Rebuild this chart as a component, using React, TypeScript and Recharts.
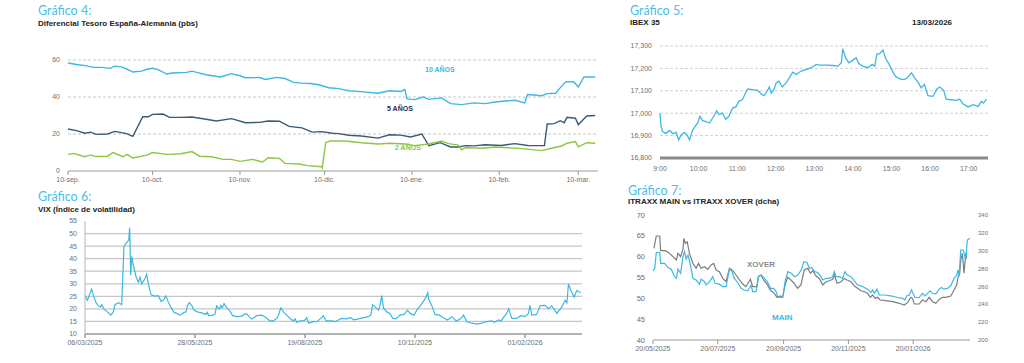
import React from 'react';
import {
  LineChart,
  Line,
  XAxis,
  YAxis,
  CartesianGrid,
} from 'recharts';

// Gráfico 4: spread vs Bund (days since 10-sep)
const spread10yDays = [0, 3, 6.6, 9, 12, 15, 16.6, 19, 21, 23, 26, 28, 30, 32, 35, 37, 42, 44, 46, 49, 54, 58, 61, 63, 68, 70, 74, 77, 80, 83, 86, 89, 92.5, 96, 99.6, 104, 110, 114, 118, 119.5, 120.3, 123, 126, 128, 132.5, 135.7, 139.6, 144, 148, 151.5, 155, 158.6, 162, 163, 168, 170, 173, 174, 176.6, 179.5, 181, 183, 187];
const spread10y = [58.4, 57.6, 56.8, 56, 56, 55.5, 56.7, 56.3, 55, 53.5, 54, 55, 55.5, 54.8, 52.4, 53, 53.3, 54, 53.2, 52, 50.8, 52.6, 51.5, 50.4, 50.5, 49.5, 50.6, 50, 47.9, 47.5, 47.3, 46.6, 45, 44.5, 43.4, 42.9, 42, 43.4, 43, 44, 39, 38.6, 40, 38.7, 39.5, 36.4, 35.9, 36.8, 36.4, 37.3, 37.8, 38.2, 36.8, 41.3, 40.7, 41.8, 42, 44, 48.3, 48.1, 45.4, 50.8, 50.8];
const spread5yDays = [0, 3, 6, 8, 10, 14, 16.6, 20.8, 23, 26.5, 28.5, 30, 33.7, 36, 40, 44, 49, 52.6, 58, 63, 68, 71, 75, 78.4, 83, 86.6, 90, 93.8, 96, 99.6, 104, 110, 114, 118, 121.5, 125.5, 128, 132, 135.7, 138.5, 141, 144, 148, 153.7, 158.6, 163, 169, 170, 172.5, 174.6, 176, 177, 180, 181, 184, 187];
const spread5y = [22.7, 21.8, 20.4, 21, 19.8, 20, 21.4, 20.2, 18.7, 29.4, 29.3, 30.6, 30.8, 29, 29, 29.2, 28, 27, 28.3, 26.1, 26.3, 27, 26.9, 24.1, 23.3, 21, 21.3, 20.4, 20.2, 19.3, 18.9, 17.8, 19.6, 19.4, 18.4, 20, 13.7, 15.3, 13, 13, 13.7, 13.6, 14.2, 13.8, 14.8, 13.8, 13.7, 25.4, 25.6, 27.2, 26.1, 29, 28.5, 25, 29.7, 30];
const spread2yDays = [0, 2, 6, 8, 10, 14, 16, 19.5, 21, 23, 28, 30, 35, 40, 44, 46.6, 51, 55, 58, 61, 65.5, 69, 71, 75, 77, 82, 85, 90, 90.2, 91.4, 93, 98.5, 104, 110, 114, 119.6, 123, 128, 132.5, 135, 138.5, 139.6, 141, 147, 151.5, 156, 161, 168, 171.5, 175, 177, 180, 181, 184, 187];
const spread2y = [9, 9.5, 7.7, 8.7, 7.8, 8, 10, 7.7, 9, 7, 8.6, 10, 9, 9.3, 10.5, 8, 7.7, 6.3, 6.3, 5.2, 6.3, 4.9, 7.2, 6.8, 4.1, 3.8, 2.9, 2.3, 1.8, 15.3, 16.2, 16.2, 15.3, 14.6, 15, 14.6, 13.7, 14.6, 16.2, 14.8, 14, 11.5, 12.6, 12.3, 13, 12.6, 12.1, 11, 12.3, 13.5, 15, 15.9, 13.1, 15.3, 15];
const spreadTicks = [0, 30, 61, 91, 122, 153, 181];
const spreadTickLabels = ['10-sep.', '10-oct.', '10-nov.', '10-dic.', '10-ene.', '10-feb.', '10-mar.'];

// Gráfico 5: IBEX 35 intraday (minutes since 9:00)
const ibexMinutes = [0, 1.5, 4, 9, 15, 20, 25, 29, 33, 38, 42, 46, 51, 59, 62, 66, 77, 85, 88, 92, 97, 102, 107, 113, 118, 122.5, 128, 133, 136.5, 144, 152, 157, 162, 166.5, 170, 173, 177, 180.6, 185, 190, 196, 201, 206.5, 212, 219.5, 227, 235, 243, 248, 258, 269, 276.6, 282, 284, 288.5, 293.7, 300, 305, 309, 315.5, 323, 330, 334, 337, 342, 346.6, 351, 355, 359.6, 366, 372.6, 379, 384, 391, 396, 402, 406, 411, 416.7, 424.5, 430.7, 435, 441, 445, 453, 461, 466, 471, 479, 487, 494.5, 500, 503, 507.5];
const ibexValues = [17000, 16944, 16918, 16910, 16923, 16908, 16914, 16881, 16903, 16914, 16903, 16881, 16926, 16959, 16986, 16968, 16956, 16993, 17011, 16993, 17000, 16973, 16986, 17023, 17028, 17053, 17060, 17090, 17108, 17105, 17102, 17087, 17078, 17098, 17117, 17090, 17105, 17135, 17143, 17117, 17135, 17158, 17183, 17173, 17188, 17195, 17203, 17218, 17215, 17215, 17213, 17210, 17225, 17288, 17248, 17225, 17237, 17248, 17222, 17210, 17203, 17218, 17210, 17263, 17267, 17282, 17243, 17225, 17198, 17165, 17153, 17150, 17156, 17180, 17158, 17135, 17113, 17128, 17078, 17075, 17108, 17117, 17102, 17063, 17060, 17057, 17063, 17042, 17028, 17038, 17030, 17053, 17045, 17063];
const ibexTicks = [0, 60, 120, 180, 240, 300, 360, 420, 480];
const ibexYTicks = [16800, 16900, 17000, 17100, 17200, 17300];

// Gráfico 6: VIX (days since 06/03/2025)
const vixDays = [0, 1.8, 5, 6.8, 8.3, 10, 11.8, 12.8, 14.3, 16.9, 19.4, 21.4, 22.6, 25.2, 27.7, 29.4, 31.4, 33, 33.7, 34.5, 35.2, 36.5, 38.5, 40.3, 41.5, 42.8, 45.3, 46.5, 47.8, 49.8, 52.8, 55.3, 57.4, 59, 61, 63, 64.7, 67.2, 69.2, 71.7, 74.7, 76.2, 77.2, 78.7, 80.5, 82.3, 84.8, 88, 91.3, 92.3, 93.3, 96.4, 98, 99.4, 101.4, 102.4, 103.6, 104.9, 106.9, 109.4, 111.4, 114.5, 118.2, 120, 122, 124, 125.8, 129.6, 133.3, 135.8, 139.6, 142, 144.7, 146, 147.7, 149.7, 152.2, 154.7, 157.2, 158.5, 159.7, 162.8, 165.3, 167.3, 168.8, 172.3, 175, 177.9, 179.9, 181.9, 186.2, 188.7, 191.2, 193.7, 197, 200.5, 203, 206.3, 210, 213.8, 215.6, 217.1, 219.6, 221.4, 222.6, 223.9, 225.2, 227.7, 230.2, 232.2, 234.7, 237.7, 240.7, 243.3, 245.3, 248.3, 250.3, 253.3, 255.8, 257.3, 258.6, 259.4, 261.6, 264.1, 267.4, 270.4, 273.5, 276.8, 280.1, 283.6, 285.6, 288.1, 291.9, 295.7, 299.4, 303.2, 307, 308.8, 312, 314, 316.2, 318.2, 319.7, 322, 325.7, 328.7, 332, 334.6, 335.8, 337.1, 340.8, 343.4, 347.2, 349.7, 352.2, 354, 356, 359.8, 362.3, 363.6, 364.8, 366.6, 369.1, 371.1, 374.1];
const vixValues = [25.3, 23.4, 27.9, 24.7, 22.5, 21.2, 20.8, 21.7, 19.9, 18.8, 17.5, 18.8, 21.7, 22.5, 21.7, 45, 46.4, 47.4, 52.3, 33.4, 40.9, 37.3, 32.9, 30.5, 32.5, 29.9, 32.1, 33.8, 29.9, 25.6, 25.1, 25.3, 23, 23.4, 25.1, 22.5, 20.8, 18.6, 18.2, 17.5, 18.6, 18.8, 21.2, 22.5, 21.4, 19.5, 18.8, 18.4, 17.8, 18.6, 17.3, 17.5, 17.8, 21.2, 19.9, 21.4, 20.4, 22.1, 20.4, 19.1, 17.3, 16.9, 17.1, 17.8, 18.1, 16.8, 16, 17.3, 17.5, 16.9, 15.2, 15.2, 16.2, 17.5, 20.4, 18.8, 17.5, 16.2, 15.2, 16, 14.7, 15.2, 15.2, 16.5, 14.3, 14.9, 14.9, 16.2, 17.3, 15.2, 15.2, 14.9, 15.6, 16.2, 16, 16.5, 15.6, 16, 16.5, 16.9, 17.5, 21.7, 20.4, 19.5, 21.4, 25.3, 20.4, 18.8, 18.2, 16.2, 16, 17.5, 17.8, 19.5, 18.2, 17.5, 19.5, 21.4, 23.4, 24.7, 26.4, 23.8, 21.4, 17.8, 17.5, 16.5, 15.6, 16.9, 15.2, 16.2, 17.5, 14.9, 14.3, 13.9, 14.3, 14.9, 15.2, 14.7, 15.6, 15.2, 16.9, 18.2, 20.1, 16.2, 16.2, 17.3, 16.9, 18.2, 21.4, 17.5, 17.8, 21.2, 21.4, 20.1, 21.2, 19.9, 18.2, 20.8, 23.4, 22.5, 29.9, 27.3, 24.7, 27.3, 26.4];
const vixTicks = [0, 83, 166, 249, 332];
const vixTickLabels = ['06/03/2025', '28/05/2025', '19/08/2025', '10/11/2025', '01/02/2026'];
const vixYTicks = [10, 15, 20, 25, 30, 35, 40, 45, 50, 55];

// Gráfico 7: iTraxx (days since 20/05/2025)
const mainDays = [0, 1.6, 3.1, 6.3, 7.2, 11, 14.1, 17.2, 20.3, 22, 23.5, 26, 28.2, 29.7, 31.3, 33, 35.3, 37.5, 40.6, 43.8, 45.3, 48.5, 50, 53.2, 56.3, 58.5, 62.5, 65.7, 68.8, 72, 74.1, 76.6, 79.7, 82.9, 86, 89.2, 92.3, 93.9, 97, 99.4, 101.9, 105, 107.6, 110.7, 113.8, 116, 117.6, 120, 122.3, 124.5, 127, 130.2, 133.3, 136.4, 139.6, 142.1, 145, 147.3, 149.5, 152, 155.1, 158.3, 159.8, 163, 166.1, 169.2, 170.8, 172.4, 175.5, 178.6, 180.8, 182.7, 186.4, 189.6, 192.7, 195.8, 199, 202.1, 205.2, 206.8, 208.4, 210.9, 213.1, 217.8, 224, 230.3, 235, 237.2, 239, 241.3, 243.5, 245.3, 246.6, 250.7, 253.8, 256, 258.5, 261, 263.2, 266.3, 269.5, 271.6, 274.1, 277.3, 280.4, 283.5, 286, 287.3, 288.2, 289.8, 292.3, 294.5, 296, 298.5];
const mainValues = [56.6, 57.2, 61, 61, 58.4, 58.4, 57.4, 57, 55.2, 54.8, 57, 56, 60, 61.2, 59.4, 60.4, 58, 54.8, 54.4, 53.4, 54.6, 54, 53.2, 54, 55.2, 53.6, 53.4, 52.8, 52.8, 57, 56.6, 54.8, 53.8, 52.4, 52, 51.8, 53.2, 51.6, 51.6, 55.2, 55.6, 54.8, 54, 52.4, 52.4, 51.6, 50.2, 50.2, 50.4, 54.2, 56.4, 56, 55.2, 55.6, 56.8, 58.8, 58.6, 57.2, 57.4, 56.4, 56.2, 55.2, 54.4, 54.8, 54.8, 55.2, 56.4, 55.2, 55.2, 54.8, 56.4, 55.6, 55.2, 54.2, 53.2, 53, 52.6, 52.2, 51.4, 52, 51.2, 52.2, 50.8, 50.8, 50.6, 50.2, 50, 49.6, 50.6, 50.8, 52, 51, 50.2, 50.2, 51.2, 50.6, 51.2, 51.8, 51.2, 51, 52.2, 52.6, 52.2, 52.4, 53, 54.8, 55.6, 56.8, 55.2, 61.6, 61.6, 59.2, 64, 64.4];
const xoverDays = [0.9, 3.1, 6.3, 7.2, 11.6, 14.8, 18.9, 22, 23.5, 26, 28.2, 29.1, 30.5, 32.2, 34.4, 37.5, 40.6, 42.8, 45.3, 48.5, 51.6, 54.7, 57.2, 59.4, 62.5, 65.7, 68.8, 72, 75.1, 78.2, 81.4, 84.5, 87.6, 91.7, 93.9, 97.9, 99.1, 101.6, 104.1, 107.3, 110.4, 114.2, 116.7, 119.8, 122, 124.2, 126.7, 129.9, 133, 136.1, 139.3, 142.4, 145.7, 148.2, 150.4, 153.5, 156.7, 159.8, 163, 166.1, 169.2, 170.8, 173.3, 177, 180.2, 182.7, 186.4, 189.6, 192.7, 195.8, 199, 202.1, 204.6, 206.8, 209, 211.5, 214, 219.3, 225.6, 231.8, 236.5, 239.7, 242.8, 244.4, 246, 250.7, 253.8, 257, 260.1, 263.2, 266.3, 269.5, 272.6, 275.7, 280.4, 283.5, 286, 287.3, 288.8, 289.8, 291.3, 292.9, 294.5, 295.4];
const xoverValues = [302.7, 316.5, 316.5, 300, 300, 297.8, 293.3, 289.6, 297, 293.3, 301.5, 313.8, 308.2, 310, 297, 285.9, 280.3, 285.9, 280.3, 282, 279, 284, 285.9, 278.4, 276.5, 269, 265.3, 280.3, 277.6, 272.8, 267.2, 262.7, 259.7, 268, 259.7, 259.7, 270.9, 272.8, 267.2, 262.7, 256, 252.3, 247.8, 249.3, 247.8, 260.5, 270.2, 267.2, 263.5, 257.9, 261.6, 278.4, 280.3, 274.7, 277.6, 271.7, 269, 261.6, 265.3, 266.4, 268, 272.8, 263.5, 265.3, 269, 267.2, 265.3, 260.5, 257.9, 255.2, 254.1, 252.3, 247.8, 250.4, 246.7, 247.8, 244.8, 244, 242.9, 241.1, 239.2, 241.8, 247.8, 246.7, 240.3, 240.3, 244.8, 242.9, 247.8, 242.9, 241.1, 245.5, 247.8, 247.8, 249.3, 256, 261.6, 270.9, 274.7, 289.6, 297, 274.7, 297, 291.4];
const itraxxTicks = [0, 61, 123, 184, 245];
const itraxxTickLabels = ['20/05/2025', '20/07/2025', '20/09/2025', '20/11/2025', '20/01/2026'];
const mainTicks = [40, 45, 50, 55, 60, 65, 70];
const xoverTicks = [200, 220, 240, 260, 280, 300, 320, 340];

const zip = (xs: number[], ys: number[]) => xs.map((x, i) => ({ x, y: ys[i] }));

const CYAN = '#3bb8e4';
const tickFont = { fontSize: 7, fill: '#6f6f6f', fontFamily: 'Liberation Sans' };

const Title = ({ x, y, text }: { x: number; y: number; text: string }) => (
  <div style={{ position: 'absolute', left: x, top: y, fontFamily: 'Lato', fontSize: 12.5, color: '#4cbde9', lineHeight: 1 }}>
    {text}
  </div>
);

const Sub = ({ x, y, text }: { x: number; y: number; text: string }) => (
  <div style={{ position: 'absolute', left: x, top: y, fontFamily: 'Liberation Sans', fontWeight: 'bold', fontSize: 8, color: '#222', lineHeight: 1, whiteSpace: 'nowrap' }}>
    {text}
  </div>
);

const Label = ({ x, y, text, color, size = 7 }: { x: number; y: number; text: string; color: string; size?: number }) => (
  <div style={{ position: 'absolute', left: x, top: y, fontFamily: 'Liberation Sans', fontWeight: 'bold', fontSize: size, color, lineHeight: 1, whiteSpace: 'nowrap' }}>
    {text}
  </div>
);

export default function App() {
  return (
    <div style={{ position: 'absolute', left: 0, top: 0, width: 1024, height: 363, background: '#fff', overflow: 'hidden' }}>
      {/* Gráfico 4 */}
      <Title x={38} y={5} text="Gráfico 4:" />
      <Sub x={38} y={20} text="Diferencial Tesoro España-Alemania (pbs)" />
      <div style={{ position: 'absolute', left: 0, top: 0 }}>
        <LineChart width={620} height={190} margin={{ top: 60, right: 22, bottom: 0, left: 0 }}>
          <CartesianGrid vertical={false} horizontalValues={[20, 40, 60]} stroke="#c9c9c9" strokeDasharray="3 2" />
          <XAxis
            type="number"
            dataKey="x"
            domain={[0, 188]}
            ticks={spreadTicks}
            interval={0}
            tickFormatter={(v) => spreadTickLabels[spreadTicks.indexOf(v)] ?? ''}
            height={19}
            tick={tickFont}
            stroke="#9a9a9a"
            tickSize={4}
          />
          <YAxis domain={[0, 60]} ticks={[0, 20, 40, 60]} interval={0} width={68} axisLine={false} tickLine={false} tick={tickFont} />
          <Line data={zip(spread10yDays, spread10y)} dataKey="y" stroke={CYAN} strokeWidth={1.4} dot={false} isAnimationActive={false} />
          <Line data={zip(spread5yDays, spread5y)} dataKey="y" stroke="#3a5a72" strokeWidth={1.4} dot={false} isAnimationActive={false} />
          <Line data={zip(spread2yDays, spread2y)} dataKey="y" stroke="#8dc640" strokeWidth={1.4} dot={false} isAnimationActive={false} />
        </LineChart>
      </div>
      <Label x={425} y={66} text="10 AÑOS" color={CYAN} />
      <Label x={387} y={105} text="5 AÑOS" color="#1f2f55" />
      <Label x={395} y={144} text="2 AÑOS" color="#8dc640" />

      {/* Gráfico 5 */}
      <Title x={630} y={5} text="Gráfico 5:" />
      <Sub x={630} y={19} text="IBEX 35" />
      <Sub x={912} y={19} text="13/03/2026" />
      <div style={{ position: 'absolute', left: 620, top: 0 }}>
        <LineChart width={404} height={180} margin={{ top: 46, right: 36, bottom: 0, left: 0 }}>
          <CartesianGrid vertical={false} stroke="#cfcfcf" strokeDasharray="3 2" />
          <XAxis
            type="number"
            dataKey="x"
            domain={[0, 510]}
            ticks={ibexTicks}
            interval={0}
            tickFormatter={(v) => `${9 + v / 60}:00`}
            height={22}
            tick={tickFont}
            stroke="#8a8a8a"
            strokeWidth={3}
            tickLine={false}
          />
          <YAxis
            domain={[16800, 17300]}
            ticks={ibexYTicks}
            interval={0}
            tickFormatter={(v) => v.toLocaleString('en-US')}
            width={40}
            axisLine={false}
            tickLine={false}
            tick={tickFont}
          />
          <Line data={zip(ibexMinutes, ibexValues)} dataKey="y" stroke={CYAN} strokeWidth={1.3} dot={false} isAnimationActive={false} />
        </LineChart>
      </div>

      {/* Gráfico 6 */}
      <Title x={38} y={191} text="Gráfico 6:" />
      <Sub x={38} y={206} text="VIX (Índice de volatilidad)" />
      <div style={{ position: 'absolute', left: 0, top: 185 }}>
        <LineChart width={620} height={178} margin={{ top: 36, right: 38, bottom: 0, left: 0 }}>
          <CartesianGrid vertical={false} horizontalValues={[15, 20, 25, 30, 35, 40, 45, 50]} stroke="#c6c6c6" strokeWidth={1.2} />
          <XAxis
            type="number"
            dataKey="x"
            domain={[0, 375]}
            ticks={vixTicks}
            interval={0}
            tickFormatter={(v) => vixTickLabels[vixTicks.indexOf(v)] ?? ''}
            height={29}
            tick={tickFont}
            stroke="#9a9a9a"
            strokeWidth={1.5}
            tickSize={4}
          />
          <YAxis domain={[10, 55]} ticks={vixYTicks} interval={0} width={85} tick={tickFont} stroke="#b5b5b5" tickLine={false} />
          <Line data={zip(vixDays, vixValues)} dataKey="y" stroke={CYAN} strokeWidth={1.2} dot={false} isAnimationActive={false} />
        </LineChart>
      </div>

      {/* Gráfico 7 */}
      <Title x={628} y={185} text="Gráfico 7:" />
      <Sub x={628} y={198} text="ITRAXX MAIN vs ITRAXX XOVER (dcha)" />
      <div style={{ position: 'absolute', left: 620, top: 180 }}>
        <LineChart width={404} height={183} margin={{ top: 35, right: 24, bottom: 0, left: 0 }}>
          <XAxis
            type="number"
            dataKey="x"
            domain={[0, 298]}
            ticks={itraxxTicks}
            interval={0}
            tickFormatter={(v) => itraxxTickLabels[itraxxTicks.indexOf(v)] ?? ''}
            height={23}
            tick={tickFont}
            stroke="#9a9a9a"
            tickSize={4}
          />
          <YAxis yAxisId="left" domain={[40, 70]} ticks={mainTicks} interval={0} width={33} axisLine={false} tickLine={false} tick={{ ...tickFont, fontSize: 7.5 }} />
          <YAxis yAxisId="right" orientation="right" domain={[200, 340]} ticks={xoverTicks} interval={0} width={30} axisLine={false} tickLine={false} tick={{ ...tickFont, fontSize: 6 }} />
          <Line yAxisId="right" data={zip(xoverDays, xoverValues)} dataKey="y" stroke="#7d7d7d" strokeWidth={1.2} dot={false} isAnimationActive={false} />
          <Line yAxisId="left" data={zip(mainDays, mainValues)} dataKey="y" stroke={CYAN} strokeWidth={1.2} dot={false} isAnimationActive={false} />
        </LineChart>
      </div>
      <Label x={747} y={261} text="XOVER" color="#8a8a8a" size={8} />
      <Label x={772} y={314} text="MAIN" color={CYAN} size={8} />
    </div>
  );
}
